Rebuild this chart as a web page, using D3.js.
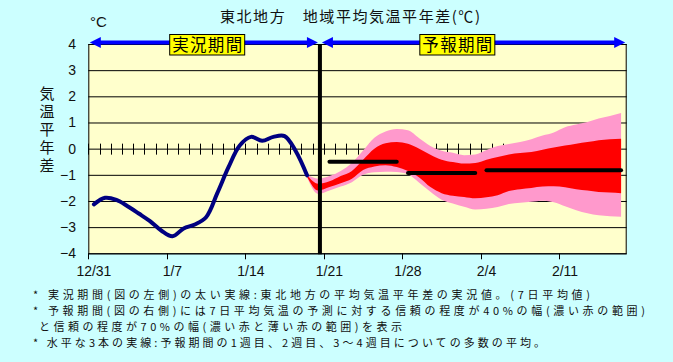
<!DOCTYPE html>
<html><head><meta charset="utf-8">
<script src="https://cdn.jsdelivr.net/npm/d3@7"></script>
<style>
body{margin:0;background:#ccffff;}
svg{display:block;font-family:"Noto Sans CJK JP","Noto Sans",sans-serif;}
</style>
</head><body>
<svg id="c" width="673" height="362"></svg>
<script>
// ---------- data ----------
const categories = ["12/31",
 "1/1","1/2","1/3","1/4","1/5","1/6","1/7","1/8","1/9","1/10","1/11","1/12","1/13","1/14","1/15","1/16",
 "1/17","1/18","1/19","1/20","1/21","1/22","1/23","1/24","1/25","1/26","1/27","1/28","1/29","1/30","1/31",
 "2/1","2/2","2/3","2/4","2/5","2/6","2/7","2/8","2/9","2/10","2/11","2/12","2/13","2/14","2/15","2/16"];
const tickLabels = ["12/31","1/7","1/14","1/21","1/28","2/4","2/11"];
const yTicks = [-4,-3,-2,-1,0,1,2,3,4];

// observed 7-day mean anomaly, 12/31 .. 1/19
const obsDates = categories.slice(0, 20);
const obsValues = [-2.13,-1.88,-1.96,-2.2,-2.48,-2.77,-3.13,-3.35,-3.05,-2.9,-2.62,-1.7,-0.71,0.12,0.45,0.3,0.45,0.48,-0.1,-1.02];

// forecast ranges, 1/19 .. 2/16
const fcDates = categories.slice(19);
const pinkHi = [-0.98,-1.15,-1.05,-0.85,-0.55,-0.07,0.42,0.66,0.75,0.7,0.4,0.1,-0.08,-0.16,-0.25,-0.22,-0.05,0.1,0.18,0.25,0.36,0.5,0.62,0.82,0.92,1.02,1.15,1.25,1.36];
const redHi  = [-1.02,-1.34,-1.25,-1.05,-0.85,-0.42,0.0,0.21,0.25,0.19,0.0,-0.23,-0.42,-0.51,-0.57,-0.55,-0.42,-0.32,-0.22,-0.17,-0.13,-0.04,0.04,0.12,0.19,0.25,0.32,0.36,0.38];
const redLo  = [-1.06,-1.6,-1.47,-1.32,-1.15,-0.82,-0.68,-0.63,-0.7,-0.85,-1.1,-1.47,-1.7,-1.8,-1.85,-1.9,-1.86,-1.78,-1.62,-1.55,-1.5,-1.45,-1.44,-1.48,-1.55,-1.6,-1.66,-1.68,-1.7];
const pinkLo = [-1.1,-1.73,-1.6,-1.45,-1.28,-1.0,-0.9,-0.88,-0.89,-0.98,-1.3,-1.65,-1.95,-2.1,-2.22,-2.33,-2.3,-2.23,-2.12,-2.07,-2.03,-1.99,-2.05,-2.2,-2.35,-2.47,-2.55,-2.58,-2.6];

// weekly ensemble means
const weekStart = ["1/21","1/28","2/4"];
const weekEnd   = ["1/27","2/3","2/16"];
const weekMean  = [-0.5,-0.93,-0.83];

// boundary between observed and forecast (in category units from 12/31)
const splitDay = 20.65;
const obsLabelDay = 10.6, fcLabelDay = 32.9;

const title = "東北地方　地域平均気温平年差(℃)";
const yTitle = "気温平年差";
const notes = [
 "* 実況期間(図の左側)の太い実線:東北地方の平均気温平年差の実況値。(7日平均値)",
 "* 予報期間(図の右側)には7日平均気温の予測に対する信頼の程度が40%の幅(濃い赤の範囲)",
 "と信頼の程度が70%の幅(濃い赤と薄い赤の範囲)を表示",
 "* 水平な3本の実線:予報期間の1週目、2週目、3～4週目についての多数の平均。"
];

// ---------- layout ----------
const L = 88.3, R = 626.7, T = 44, B = 253.3;
const svg = d3.select("#c");
const x = d3.scaleBand().domain(categories).range([L, R]).padding(0);
const bw = x.bandwidth();
const xc = d => x(d) + bw / 2;
const xd = v => L + v * bw;
const y = d3.scaleLinear().domain([-4, 4]).range([B, T]);

svg.append("rect").attr("width",673).attr("height",362).attr("fill","#ccffff");
svg.append("rect").attr("x",L).attr("y",T).attr("width",R-L).attr("height",B-T).attr("fill","#ffffcc");

// gridlines
svg.append("g").selectAll("line").data(yTicks).join("line")
  .attr("x1",L).attr("x2",R).attr("y1",d=>y(d)+0.5).attr("y2",d=>y(d)+0.5)
  .attr("stroke","#000").attr("stroke-width",1);

// minor ticks on zero line
svg.append("g").selectAll("line").data(categories).join("line")
  .attr("x1",d=>Math.round(x(d))+0.5).attr("x2",d=>Math.round(x(d))+0.5)
  .attr("y1",y(0)-5).attr("y2",y(0)+6)
  .attr("stroke","#000").attr("stroke-width",1);

// forecast bands
const fc = fcDates.map((d,i)=>({d, ph:pinkHi[i], rh:redHi[i], rl:redLo[i], pl:pinkLo[i]}));
svg.append("path").datum(fc)
  .attr("d", d3.area().x(d=>xc(d.d)).y0(d=>y(d.pl)).y1(d=>y(d.ph)).curve(d3.curveMonotoneX))
  .attr("fill","#ff99cc");
svg.append("path").datum(fc)
  .attr("d", d3.area().x(d=>xc(d.d)).y0(d=>y(d.rl)).y1(d=>y(d.rh)).curve(d3.curveMonotoneX))
  .attr("fill","#ff0000");

// observed line
const obs = obsDates.map((d,i)=>({d, v:obsValues[i]}));
svg.append("path").datum(obs)
  .attr("d", d3.line().x(d=>xc(d.d)).y(d=>y(d.v)).curve(d3.curveCatmullRom.alpha(0.5)))
  .attr("fill","none").attr("stroke","#000080").attr("stroke-width",4)
  .attr("stroke-linejoin","round").attr("stroke-linecap","round");

// weekly mean lines
svg.append("g").selectAll("line").data(weekMean).join("line")
  .attr("x1",(d,i)=>xc(weekStart[i])).attr("x2",(d,i)=>xc(weekEnd[i]))
  .attr("y1",d=>y(d)).attr("y2",d=>y(d))
  .attr("stroke","#000").attr("stroke-width",4).attr("stroke-linecap","round");

// plot border
svg.append("rect").attr("x",L+0.5).attr("y",T+0.5).attr("width",R-L-1).attr("height",B-T)
  .attr("fill","none").attr("stroke","#000").attr("stroke-width",1);

// bottom axis major ticks
svg.append("g").selectAll("line").data(tickLabels).join("line")
  .attr("x1",d=>Math.round(x(d))+0.5).attr("x2",d=>Math.round(x(d))+0.5)
  .attr("y1",B).attr("y2",B+6).attr("stroke","#000").attr("stroke-width",1);

// split line
const xs = xd(splitDay);
svg.append("line").attr("x1",xs).attr("x2",xs).attr("y1",T).attr("y2",B+1)
  .attr("stroke","#000").attr("stroke-width",4);

// blue arrows
const ay = T - 1.5;
const blue = "#0000ff";
function arrow(x1, x2) {
  const g = svg.append("g");
  g.append("line").attr("x1",x1+6).attr("x2",x2-6).attr("y1",ay).attr("y2",ay)
    .attr("stroke",blue).attr("stroke-width",4);
  g.append("path").attr("d",`M${x1},${ay}L${x1+11},${ay-5.5}L${x1+11},${ay+5.5}Z`).attr("fill",blue);
  g.append("path").attr("d",`M${x2},${ay}L${x2-11},${ay-5.5}L${x2-11},${ay+5.5}Z`).attr("fill",blue);
}
arrow(L+1.5, xs-2);
arrow(xs+2, R-1.5);

// period label boxes
function labelBox(day, txt) {
  const cx = xd(day);
  svg.append("rect").attr("x",cx-37.5).attr("y",34.5).attr("width",75).attr("height",20.5)
    .attr("fill","#ffff00").attr("stroke","#000").attr("stroke-width",1);
  svg.append("text").attr("x",cx).attr("y",51).attr("text-anchor","middle")
    .attr("font-size",16.5).attr("fill","#000").attr("textLength",70).attr("lengthAdjust","spacing").text(txt);
}
labelBox(obsLabelDay, "実況期間");
labelBox(fcLabelDay, "予報期間");

// y tick labels
svg.append("g").selectAll("text").data(yTicks).join("text")
  .attr("x",76).attr("y",d=>y(d)+5).attr("text-anchor","end")
  .attr("font-size",14).attr("font-family","Liberation Sans, Arial, sans-serif").attr("fill","#111")
  .text(d=> d<0 ? "\u2212"+Math.abs(d) : d);

// x tick labels
svg.append("g").selectAll("text").data(tickLabels).join("text")
  .attr("x",d=>xc(d)).attr("y",276).attr("text-anchor","middle")
  .attr("font-size",14).attr("font-family","Liberation Sans, Arial, sans-serif").attr("fill","#111")
  .text(d=>d);

// unit
svg.append("text").attr("x",90).attr("y",27).attr("font-size",15)
  .attr("font-family","Liberation Sans, Arial, sans-serif").attr("fill","#111").text("°C");

// title
svg.append("text").attr("x",220).attr("y",22).attr("font-size",15).attr("fill","#111")
  .attr("textLength",260).attr("lengthAdjust","spacing").text(title);

// y title (vertical)
svg.append("text").attr("x",47).attr("y",85.5)
  .style("writing-mode","vertical-rl").attr("letter-spacing",3)
  .attr("font-size",15).attr("fill","#111").text(yTitle);

// notes
const noteX = [33,33,39,33], noteW = [557,612,363,512];
svg.append("g").selectAll("text").data(notes).join("text")
  .attr("x",(d,i)=>noteX[i]).attr("y",(d,i)=>299+i*16)
  .attr("font-size",11).attr("fill","#111")
  .attr("textLength",(d,i)=>noteW[i]).attr("lengthAdjust","spacing")
  .text(d=>d);
</script>
</body></html>
